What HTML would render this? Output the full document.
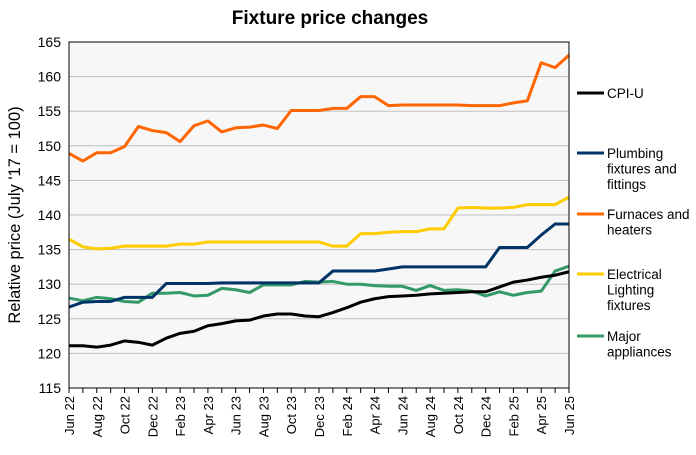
<!DOCTYPE html>
<html><head><meta charset="utf-8"><style>
body{margin:0;background:#fff;}
svg text{font-family:"Liberation Sans",Arial,sans-serif;fill:#000;}
</style></head><body>
<svg id="chart" width="696" height="450" xmlns="http://www.w3.org/2000/svg">
<text x="330" y="24" text-anchor="middle" font-size="19" font-weight="bold">Fixture price changes</text>
<rect x="69" y="42" width="500" height="346" fill="#f7f7f7"/>
<g id="grid"></g><g id="yticks"></g><g id="xticks"></g><g id="series"></g>
<rect x="69" y="42" width="500" height="346" fill="none" stroke="#000" stroke-width="1"/>
<text transform="translate(20,215) rotate(-90)" text-anchor="middle" font-size="16.5">Relative price (July '17 = 100)</text>
<g id="legend"></g>
</svg>
<script>
const months=["Jun 22","Jul 22","Aug 22","Sep 22","Oct 22","Nov 22","Dec 22","Jan 23","Feb 23","Mar 23","Apr 23","May 23","Jun 23","Jul 23","Aug 23","Sep 23","Oct 23","Nov 23","Dec 23","Jan 24","Feb 24","Mar 24","Apr 24","May 24","Jun 24","Jul 24","Aug 24","Sep 24","Oct 24","Nov 24","Dec 24","Jan 25","Feb 25","Mar 25","Apr 25","May 25","Jun 25"];
const yTicks=[115,120,125,130,135,140,145,150,155,160,165];
const cpiU=[121.1,121.1,120.9,121.2,121.8,121.6,121.2,122.2,122.9,123.2,124.0,124.3,124.7,124.8,125.4,125.7,125.7,125.4,125.3,125.9,126.6,127.4,127.9,128.2,128.3,128.4,128.6,128.7,128.8,128.9,128.9,129.6,130.3,130.6,131.0,131.3,131.8];
const plumbing=[126.7,127.4,127.5,127.5,128.1,128.1,128.1,130.1,130.1,130.1,130.1,130.2,130.2,130.2,130.2,130.2,130.2,130.2,130.2,131.9,131.9,131.9,131.9,132.2,132.5,132.5,132.5,132.5,132.5,132.5,132.5,135.3,135.3,135.3,137.1,138.7,138.7];
const furnaces=[148.9,147.8,149.0,149.0,149.9,152.8,152.2,151.9,150.6,152.9,153.6,152.0,152.6,152.7,153.0,152.5,155.1,155.1,155.1,155.4,155.4,157.1,157.1,155.8,155.9,155.9,155.9,155.9,155.9,155.8,155.8,155.8,156.2,156.5,162.0,161.3,163.1];
const electrical=[136.5,135.4,135.1,135.2,135.5,135.5,135.5,135.5,135.8,135.8,136.1,136.1,136.1,136.1,136.1,136.1,136.1,136.1,136.1,135.5,135.5,137.3,137.3,137.5,137.6,137.6,138.0,138.0,141.0,141.1,141.0,141.0,141.1,141.5,141.5,141.5,142.6];
const appliances=[128.0,127.6,128.1,127.9,127.5,127.4,128.7,128.7,128.8,128.3,128.4,129.4,129.2,128.8,129.9,129.9,129.9,130.4,130.3,130.4,130.0,130.0,129.8,129.7,129.7,129.1,129.8,129.1,129.2,129.0,128.3,128.9,128.4,128.8,129.0,131.9,132.6];

const NS="http://www.w3.org/2000/svg";
const X0=69,X1=569,Y0=388,Y1=42,YMIN=115,YMAX=165;
const xs=i=>X0+(X1-X0)*i/(months.length-1);
const ys=v=>Y0-(v-YMIN)/(YMAX-YMIN)*(Y0-Y1);
function mk(t,a,p){const e=document.createElementNS(NS,t);for(const k in a)e.setAttribute(k,a[k]);p.appendChild(e);return e;}
const grid=document.getElementById('grid'),yt=document.getElementById('yticks'),xt=document.getElementById('xticks'),sg=document.getElementById('series'),lg=document.getElementById('legend');
yTicks.forEach(v=>{
  if(v>YMIN&&v<YMAX){const l=mk('line',{x1:X0,x2:X1,y1:ys(v),y2:ys(v),stroke:'#c0c0c0','stroke-width':1},grid);
  
  }
  const t=mk('text',{x:X0-8,y:ys(v)+5,'text-anchor':'end','font-size':'14'},yt);t.textContent=v;
  
  
});
months.forEach((m,i)=>{
  const tk=mk('line',{x1:xs(i),x2:xs(i),y1:Y0,y2:Y0+5,stroke:'#000'},xt);
  
  
  if(i%2===0){const t=mk('text',{transform:`translate(${xs(i)+5},${Y0+8}) rotate(-90)`,'text-anchor':'end','font-size':'13'},xt);t.textContent=m;
  
  }
});
const series=[
 {name:'cpi-u',data:cpiU,color:'#000000',label:['CPI-U'],ly:93},
 {name:'plumbing',data:plumbing,color:'#003366',label:['Plumbing','fixtures and','fittings'],ly:153},
 {name:'furnaces',data:furnaces,color:'#ff6600',label:['Furnaces and','heaters'],ly:214},
 {name:'electrical',data:electrical,color:'#ffcc00',label:['Electrical','Lighting','fixtures'],ly:274},
 {name:'appliances',data:appliances,color:'#339966',label:['Major','appliances'],ly:336}];
[3,4,1,0,2].forEach(k=>{const s=series[k];
  const p=mk('polyline',{points:s.data.map((v,i)=>xs(i)+','+ys(v)).join(' '),fill:'none',stroke:s.color,'stroke-width':3,'stroke-linejoin':'round'},sg);
  
  
});
series.forEach(s=>{
  const g=mk('g',{},lg);
  
  
  mk('line',{x1:577,x2:604,y1:s.ly,y2:s.ly,stroke:s.color,'stroke-width':3},g);
  s.label.forEach((ln,j)=>{const t=mk('text',{x:607,y:s.ly+5+j*15.5,'font-size':'13.5'},g);t.textContent=ln;});
});
</script>
</body></html>
